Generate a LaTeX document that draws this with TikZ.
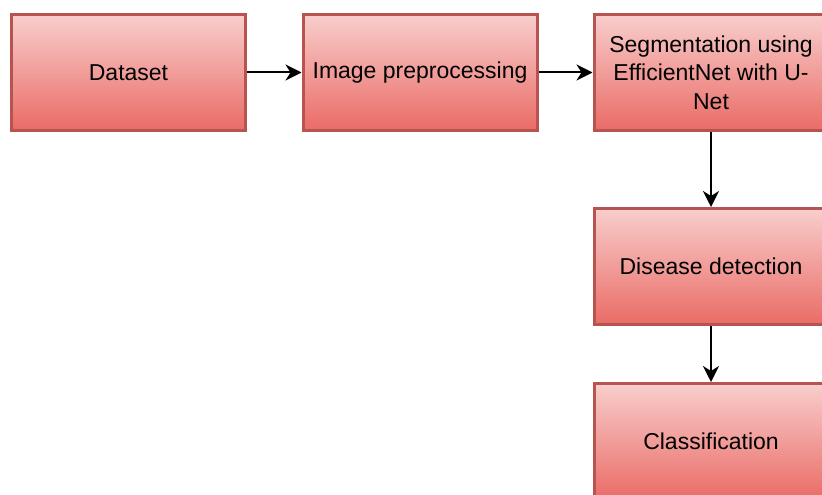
\documentclass[tikz,border=0pt]{standalone}
\usepackage{fontspec}
\setmainfont{Liberation Sans}
\usetikzlibrary{arrows.meta}
\definecolor{boxtop}{HTML}{F8CECC}
\definecolor{boxbot}{HTML}{EA6B66}
\definecolor{boxline}{HTML}{B85450}
\begin{document}
\begin{tikzpicture}[x=1pt,y=-1pt,
    stage/.style={draw=boxline,line width=3pt,top color=boxtop,bottom color=boxbot,
      minimum width=234pt,minimum height=116pt,align=center,inner sep=2pt,
      font=\fontsize{23}{28.5}\selectfont},
    flow/.style={-{Stealth[length=16pt,width=16pt,inset=5pt]},line width=2pt}]
    \useasboundingbox (0,0) rectangle (822,495);
    \node[stage] (data) at (128.5,72.5) {Dataset};
    \node[stage] (prep) at (420,72.5) {Image preprocessing};
    \node[stage] (seg) at (711,72.5) {Segmentation using\\EfficientNet with U-\\Net};
    \node[stage] (detect) at (711,266.5) {Disease detection};
    \node[stage] (cls) at (711,441.5) {Classification};
    \draw[flow] (data) -- (prep);
    \draw[flow] (prep) -- (seg);
    \draw[flow] (seg) -- (detect);
    \draw[flow] (detect) -- (cls);
  \end{tikzpicture}
\end{document}
